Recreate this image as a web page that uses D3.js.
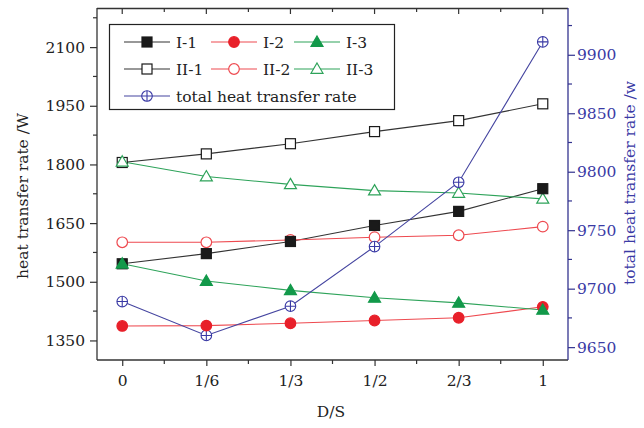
<!DOCTYPE html>
<html>
<head>
<meta charset="utf-8">
<script src="https://cdn.jsdelivr.net/npm/d3@7/dist/d3.min.js"></script>
<style>
  html, body { margin: 0; padding: 0; background: #fff; }
</style>
</head>
<body>
<svg id="chart" width="644" height="428"></svg>
<script>
// D/S ratios on the x axis
const categories = ["0", "1/6", "1/3", "1/2", "2/3", "1"];

// Heat transfer rate per tube (W), left axis
const seriesI1 = [1546, 1572, 1603, 1644, 1680, 1738];
const seriesI2 = [1387, 1388, 1394, 1401, 1408, 1436];
const seriesI3 = [1546, 1502, 1478, 1459, 1446, 1428];
const seriesII1 = [1805, 1827, 1853, 1884, 1912, 1955];
const seriesII2 = [1601, 1601, 1607, 1614, 1619, 1641];
const seriesII3 = [1807, 1769, 1749, 1733, 1727, 1712];

// Total heat transfer rate (W), right axis
const seriesTotal = [9689, 9660, 9685, 9736, 9791, 9911];

// Axis tick values
const leftTicks = [1350, 1500, 1650, 1800, 1950, 2100];
const leftMinor = [1425, 1575, 1725, 1875, 2025, 2175];
const rightTicks = [9650, 9700, 9750, 9800, 9850, 9900];
const rightMinor = [9675, 9725, 9775, 9825, 9875, 9925];

const svg = d3.select("#chart");
const L = 97, R = 568, T = 8, B = 360;
const SERIF = "DejaVu Serif";

const x = d3.scaleLinear().domain([-0.3, 5.3]).range([L, R]);
const yL = d3.scaleLinear().domain([1300, 2200]).range([B, T]);
const yR = d3.scaleLinear().domain([9639, 9940]).range([B, T]);

const BLUE = "#33338f";
const FONT = 15.5;

// Frame: top line
svg.append("line").attr("x1", L).attr("x2", R).attr("y1", T + 0.5).attr("y2", T + 0.5)
  .attr("stroke", "#333").attr("stroke-width", 1.3);

// Bottom axis
const xMajor = categories.map((c, i) => i);
const xMinor = d3.range(0, 5).map(i => i + 0.5);
const gB = svg.append("g").attr("transform", `translate(0,${B})`)
  .call(d3.axisBottom(x).tickValues(xMajor).tickFormat(i => categories[i]).tickSize(6).tickPadding(9));
gB.attr("font-family", SERIF);
gB.select(".domain").attr("stroke", "#333").attr("stroke-width", 1.3).attr("d", `M${L},0H${R}`);
gB.selectAll(".tick line").attr("stroke", "#333").attr("stroke-width", 1.2);
gB.selectAll(".tick text").attr("font-size", FONT).attr("fill", "#222");
gB.append("g").selectAll("line").data(xMinor).join("line")
  .attr("x1", d => x(d)).attr("x2", d => x(d)).attr("y1", 0).attr("y2", 4)
  .attr("stroke", "#333").attr("stroke-width", 1.2);

// Top ticks pointing inward
const gT = svg.append("g");
gT.selectAll("line.maj").data(xMajor).join("line").attr("class", "maj")
  .attr("x1", d => x(d)).attr("x2", d => x(d)).attr("y1", T).attr("y2", T + 6)
  .attr("stroke", "#333").attr("stroke-width", 1.2);
gT.selectAll("line.min").data(xMinor).join("line").attr("class", "min")
  .attr("x1", d => x(d)).attr("x2", d => x(d)).attr("y1", T).attr("y2", T + 4)
  .attr("stroke", "#333").attr("stroke-width", 1.2);

// Left axis
const gL = svg.append("g").attr("transform", `translate(${L},0)`)
  .call(d3.axisLeft(yL).tickValues(leftTicks).tickFormat(d3.format("d")).tickSize(7).tickPadding(5));
gL.attr("font-family", SERIF);
gL.select(".domain").attr("stroke", "#333").attr("stroke-width", 1.3).attr("d", `M0,${T}V${B}`);
gL.selectAll(".tick line").attr("stroke", "#333").attr("stroke-width", 1.2);
gL.selectAll(".tick text").attr("font-size", FONT).attr("fill", "#222");
gL.append("g").selectAll("line").data(leftMinor)
  .join("line").attr("x1", -4).attr("x2", 0).attr("y1", d => yL(d)).attr("y2", d => yL(d))
  .attr("stroke", "#333").attr("stroke-width", 1.2);

// Right axis
const gR = svg.append("g").attr("transform", `translate(${R},0)`)
  .call(d3.axisRight(yR).tickValues(rightTicks).tickFormat(d3.format("d")).tickSize(7).tickPadding(2));
gR.attr("font-family", SERIF);
gR.select(".domain").attr("stroke", BLUE).attr("stroke-width", 1.3).attr("d", `M0,${T}V${B}`);
gR.selectAll(".tick line").attr("stroke", BLUE).attr("stroke-width", 1.2);
gR.selectAll(".tick text").attr("font-size", FONT).attr("fill", "#3a3aa5");
gR.append("g").selectAll("line").data(rightMinor)
  .join("line").attr("x1", 0).attr("x2", 4).attr("y1", d => yR(d)).attr("y2", d => yR(d))
  .attr("stroke", BLUE).attr("stroke-width", 1.2);

// Axis titles
svg.append("text").attr("transform", "translate(28,196) rotate(-90)")
  .attr("text-anchor", "middle").attr("font-size", FONT).attr("fill", "#222")
  .attr("font-family", SERIF).text("heat transfer rate /W");
svg.append("text").attr("transform", "translate(635,183) rotate(-90)")
  .attr("text-anchor", "middle").attr("font-size", FONT).attr("fill", "#3a3aa5")
  .attr("font-family", SERIF).text("total heat transfer rate /w");
svg.append("text").attr("x", 331).attr("y", 417)
  .attr("text-anchor", "middle").attr("font-size", FONT).attr("fill", "#222")
  .attr("font-family", SERIF).text("D/S");

// Marker drawing
function marker(g, type, color, cx, cy) {
  if (type === "sqF" || type === "sqO") {
    g.append("rect").attr("x", cx - 5).attr("y", cy - 5).attr("width", 10).attr("height", 10)
      .attr("fill", type === "sqF" ? color : "#fff").attr("stroke", color).attr("stroke-width", 1.2);
  } else if (type === "ciF" || type === "ciO") {
    g.append("circle").attr("cx", cx).attr("cy", cy).attr("r", 5.3)
      .attr("fill", type === "ciF" ? color : "#fff").attr("stroke", color).attr("stroke-width", 1.2);
  } else if (type === "trF" || type === "trO") {
    const h = 6;
    g.append("path").attr("d", `M${cx},${cy - h}L${cx + h},${cy + h * 0.72}L${cx - h},${cy + h * 0.72}Z`)
      .attr("fill", type === "trF" ? color : "#fff").attr("stroke", color).attr("stroke-width", 1.2);
  } else if (type === "plus") {
    g.append("circle").attr("cx", cx).attr("cy", cy).attr("r", 5.3)
      .attr("fill", "#fff").attr("stroke", color).attr("stroke-width", 1.1);
    g.append("path").attr("d", `M${cx - 5.3},${cy}H${cx + 5.3}M${cx},${cy - 5.3}V${cy + 5.3}`)
      .attr("stroke", color).attr("stroke-width", 1.1);
  }
}

const series = [
  { name: "I-1", values: seriesI1, y: yL, line: "#333", mk: "#1a1a1a", type: "sqF" },
  { name: "I-2", values: seriesI2, y: yL, line: "#ee4a50", mk: "#e8202a", type: "ciF" },
  { name: "I-3", values: seriesI3, y: yL, line: "#2ea35a", mk: "#12994a", type: "trF" },
  { name: "II-1", values: seriesII1, y: yL, line: "#333", mk: "#1a1a1a", type: "sqO" },
  { name: "II-2", values: seriesII2, y: yL, line: "#ee4a50", mk: "#ee4a50", type: "ciO" },
  { name: "II-3", values: seriesII3, y: yL, line: "#2ea35a", mk: "#2ea35a", type: "trO" },
  { name: "total heat transfer rate", values: seriesTotal, y: yR, line: "#4545a0", mk: "#3a3aa5", type: "plus" }
];

// Lines first, then markers on top
const gLines = svg.append("g");
const gMarks = svg.append("g");
series.forEach(s => {
  const ln = d3.line().x((d, i) => x(i)).y(d => s.y(d));
  gLines.append("path").attr("d", ln(s.values)).attr("fill", "none")
    .attr("stroke", s.line).attr("stroke-width", 1.1);
});
// open markers first, filled ones above them
[3, 4, 5, 6, 0, 1, 2].forEach(k => {
  const s = series[k];
  s.values.forEach((v, i) => marker(gMarks, s.type, s.mk, x(i), s.y(v)));
});

// Legend
const leg = svg.append("g");
leg.append("rect").attr("x", 109.5).attr("y", 24.5).attr("width", 285).attr("height", 85)
  .attr("fill", "#fff").attr("stroke", "#222").attr("stroke-width", 1.2);
const legPos = [
  [0, 124, 42], [1, 211, 42], [2, 294, 42],
  [3, 124, 69], [4, 211, 69], [5, 294, 69],
  [6, 124, 96]
];
legPos.forEach(([k, lx, ly]) => {
  const s = series[k];
  leg.append("line").attr("x1", lx).attr("x2", lx + 46).attr("y1", ly).attr("y2", ly)
    .attr("stroke", s.line).attr("stroke-width", 1.1);
  marker(leg, s.type, s.mk, lx + 23, ly);
  leg.append("text").attr("x", lx + 52).attr("y", ly + 5.5).attr("font-size", FONT)
    .attr("font-family", SERIF).attr("fill", "#222").text(s.name);
});
</script>
</body>
</html>
